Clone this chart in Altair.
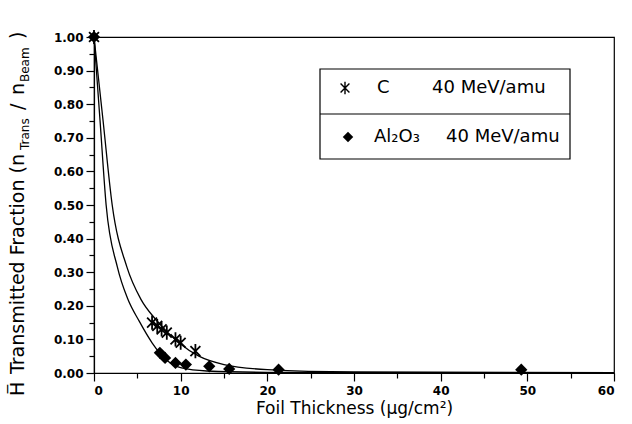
import altair as alt
import pandas as pd

# ---- data ----
c_x = [0, 6.7, 7.3, 7.8, 8.4, 9.4, 10.0, 11.7]
c_y = [1.0, 0.15, 0.14, 0.13, 0.12, 0.10, 0.09, 0.065]
al_x = [0, 7.6, 8.2, 9.4, 10.6, 13.3, 15.6, 21.3, 49.3]
al_y = [1.0, 0.06, 0.045, 0.03, 0.025, 0.02, 0.012, 0.01, 0.01]

c_fit_x = [0, 1.05, 2.1, 3.8, 5.4, 7.1, 9.8, 12.1, 15, 20, 30, 60]
c_fit_y = [1.0, 0.75, 0.5, 0.315, 0.22, 0.16, 0.09, 0.05, 0.025, 0.01, 0.003, 0.001]
al_fit_x = [0, 0.7, 1.4, 2.7, 3.9, 5.2, 6.7, 8.3, 10.1, 13, 20, 60]
al_fit_y = [1.0, 0.75, 0.5, 0.315, 0.22, 0.155, 0.09, 0.04, 0.015, 0.006, 0.002, 0.0]

x_major = [0, 10, 20, 30, 40, 50, 60]
x_minor = [5, 15, 25, 35, 45, 55]
y_major = [0.0, 0.1, 0.2, 0.3, 0.4, 0.5, 0.6, 0.7, 0.8, 0.9, 1.0]
y_minor = [0.05, 0.15, 0.25, 0.35, 0.45, 0.55, 0.65, 0.75, 0.85, 0.95]

FONT = "DejaVu Sans"

c_df = pd.DataFrame({"x": c_x, "y": c_y})
al_df = pd.DataFrame({"x": al_x, "y": al_y})
fit_df = pd.concat([
    pd.DataFrame({"x": c_fit_x, "y": c_fit_y, "s": "C"}),
    pd.DataFrame({"x": al_fit_x, "y": al_fit_y, "s": "Al"}),
])

xs = alt.Scale(domain=[0, 60], nice=False, zero=False)
ys = alt.Scale(domain=[0, 1], nice=False)

axis_common = dict(domainColor="black", tickColor="black", grid=False,
                   labelFont=FONT, labelColor="black", labelFontWeight="bold",
                   labelFontSize=12, domainWidth=1.2, tickWidth=1.2)

x_main = alt.Axis(values=x_major, tickSize=8, orient="bottom", labelPadding=4,
                  title="Foil Thickness (µg/cm²)", titleFont=FONT, titleFontSize=17,
                  titleFontWeight="normal", titleColor="black", titlePadding=4,
                  **axis_common)
y_main = alt.Axis(values=y_major, tickSize=8, orient="left", format=".2f",
                  title=None, labelPadding=3, **axis_common)
x_min = alt.Axis(values=x_minor, tickSize=5, orient="bottom", labels=False,
                 domain=False, title=None, tickColor="black", grid=False, tickWidth=1.2)
y_min = alt.Axis(values=y_minor, tickSize=5, orient="left", labels=False,
                 domain=False, title=None, tickColor="black", grid=False, tickWidth=1.2)

curves = alt.Chart(fit_df).mark_line(color="black", strokeWidth=1.3,
                                     interpolate="monotone").encode(
    x=alt.X("x:Q", scale=xs, axis=x_main),
    y=alt.Y("y:Q", scale=ys, axis=y_main),
    detail="s:N",
)

minor = alt.Chart(fit_df).mark_point(opacity=0).encode(
    x=alt.X("x:Q", scale=xs, axis=x_min),
    y=alt.Y("y:Q", scale=ys, axis=y_min),
)

STAR = "M-0.7,-0.7L0.7,0.7M-0.7,0.7L0.7,-0.7M0,-1L0,1"

stars = alt.Chart(c_df).mark_point(shape=STAR, size=200, color="black", opacity=1,
                                   strokeWidth=1.8, filled=False).encode(
    x=alt.X("x:Q", scale=xs, axis=None),
    y=alt.Y("y:Q", scale=ys, axis=None),
)
diamonds = alt.Chart(al_df).mark_point(shape="diamond", size=150, color="black",
                                       filled=True, opacity=1).encode(
    x=alt.X("x:Q", scale=xs, axis=None),
    y=alt.Y("y:Q", scale=ys, axis=None),
)

one = pd.DataFrame({"a": [0]})


def txt(t, x, y, size=17, angle=0, align="left", baseline="middle", weight="normal"):
    return alt.Chart(one).mark_text(text=t, font=FONT, fontSize=size, angle=angle,
                                    align=align, baseline=baseline,
                                    fontWeight=weight, color="black").encode(
        x=alt.value(x), y=alt.value(y))


# legend box
box = alt.Chart(one).mark_rect(fill="white", stroke="black", strokeWidth=1.2).encode(
    x=alt.value(226), x2=alt.value(476), y=alt.value(32), y2=alt.value(122))
divider = alt.Chart(one).mark_rule(color="black", strokeWidth=1.2).encode(
    x=alt.value(226), x2=alt.value(476), y=alt.value(77))
leg_star = alt.Chart(one).mark_point(shape=STAR, size=160, color="black", opacity=1,
                                     strokeWidth=1.4, filled=False).encode(
    x=alt.value(251), y=alt.value(51))
leg_diam = alt.Chart(one).mark_point(shape="diamond", size=110, color="black",
                                     filled=True, opacity=1).encode(
    x=alt.value(254), y=alt.value(100))

legend = [box, divider, leg_star, leg_diam,
          txt("C", 283, 51, size=18), txt("40 MeV/amu", 338, 51, size=18),
          txt("Al₂O₃", 280, 100, size=18), txt("40 MeV/amu", 352, 100, size=18)]

# rotated y title pieces
ytitle = [
    txt("H", -70, 359, size=19, angle=270, baseline="alphabetic"),
    txt("−", -82, 352, size=14, angle=270, align="center", baseline="alphabetic"),
    txt("Transmitted Fraction (n", -70, 337, size=19, angle=270, baseline="alphabetic"),
    txt("Trans", -65, 113, size=12, angle=270, baseline="alphabetic"),
    txt("/", -70, 73, size=19, angle=270, baseline="alphabetic"),
    txt("n", -70, 58, size=19, angle=270, baseline="alphabetic"),
    txt("Beam", -65, 45, size=12, angle=270, baseline="alphabetic"),
    txt(")", -70, 2, size=19, angle=270, baseline="alphabetic"),
]

chart = alt.layer(curves, minor, stars, diamonds, *legend, *ytitle).resolve_axis(
    x="independent", y="independent"
).properties(
    width=520, height=336,
    autosize=alt.AutoSizeParams(type="none"),
    padding={"left": 94, "top": 37, "right": 18, "bottom": 51},
    background="white",
).configure_view(stroke="black", strokeWidth=1.2)

chart.save("out.html", embed_options={"renderer": "svg", "actions": False})
